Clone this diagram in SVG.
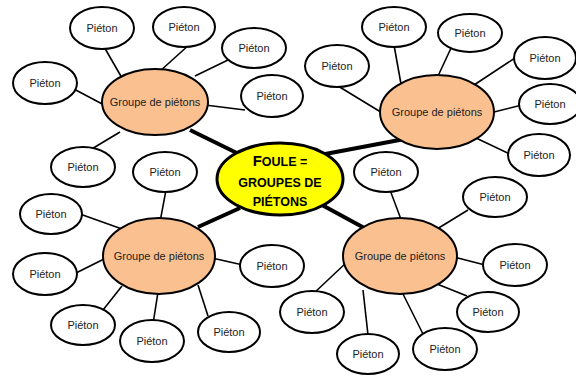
<svg xmlns="http://www.w3.org/2000/svg" width="576" height="376" viewBox="0 0 576 376">
<style>
.p ellipse{fill:#fff;stroke:#000;stroke-width:2}
.g ellipse{fill:#FAC090;stroke:#000;stroke-width:2}
text{font-family:"Liberation Sans",Arial,sans-serif;font-size:11px;fill:#222;text-anchor:middle}
.c text{font-weight:bold;fill:#000;font-size:12.5px}
.l line{stroke:#000;stroke-width:1.6}
.l line.t{stroke-width:4}
</style>
<rect width="576" height="376" fill="#fff"/>
<g id="connectors" class="l">
<line class="t" x1="190" y1="130" x2="245" y2="157"/>
<line class="t" x1="410" y1="138" x2="320" y2="155"/>
<line class="t" x1="198" y1="227" x2="240" y2="208"/>
<line class="t" x1="322" y1="205" x2="368" y2="230"/>
<line x1="103" y1="45" x2="122" y2="78"/>
<line x1="190" y1="44" x2="159" y2="72"/>
<line x1="228" y1="60" x2="195" y2="76"/>
<line x1="245" y1="110" x2="205" y2="105"/>
<line x1="72" y1="88" x2="106" y2="106"/>
<line x1="90" y1="150" x2="120" y2="132"/>
<line x1="394" y1="45" x2="401" y2="84"/>
<line x1="452" y1="46" x2="438" y2="76"/>
<line x1="338" y1="86" x2="384" y2="114"/>
<line x1="518" y1="56" x2="474" y2="85"/>
<line x1="522" y1="105" x2="490" y2="113"/>
<line x1="512" y1="155" x2="476" y2="138"/>
<line x1="166" y1="190" x2="160" y2="222"/>
<line x1="80" y1="214" x2="122" y2="229"/>
<line x1="74" y1="274" x2="106" y2="258"/>
<line x1="103" y1="310" x2="122" y2="286"/>
<line x1="153" y1="324" x2="158" y2="292"/>
<line x1="208" y1="316" x2="198" y2="285"/>
<line x1="243" y1="265" x2="212" y2="258"/>
<line x1="390" y1="190" x2="402" y2="222"/>
<line x1="468" y1="210" x2="437" y2="229"/>
<line x1="485" y1="265" x2="454" y2="257"/>
<line x1="467" y1="296" x2="437" y2="284"/>
<line x1="423" y1="334" x2="402" y2="292"/>
<line x1="368" y1="335" x2="363" y2="290"/>
<line x1="313" y1="294" x2="347" y2="262"/>
</g>
<g id="foule" class="c">
<ellipse cx="280" cy="179" rx="63" ry="36" fill="#FFFF00" stroke="#000" stroke-width="3"/>
<text x="280" y="166"><tspan font-size="15">F</tspan>OULE =</text>
<text x="280" y="187">GROUPES DE</text>
<text x="280" y="206">PIÉTONS</text>
</g>
<g id="g1" class="g"><ellipse cx="155" cy="102" rx="53" ry="33"/><text x="155" y="106">Groupe de piétons</text></g>
<g id="g2" class="g"><ellipse cx="437" cy="112" rx="57" ry="37"/><text x="437" y="116">Groupe de piétons</text></g>
<g id="g3" class="g"><ellipse cx="159" cy="256" rx="56" ry="38"/><text x="159" y="260">Groupe de piétons</text></g>
<g id="g4" class="g"><ellipse cx="400" cy="256" rx="57" ry="38"/><text x="400" y="260">Groupe de piétons</text></g>
<g id="p1" class="p"><ellipse cx="102" cy="28" rx="32" ry="21"/><text x="102" y="32">Piéton</text></g>
<g id="p2" class="p"><ellipse cx="184" cy="27" rx="31" ry="20"/><text x="184" y="31">Piéton</text></g>
<g id="p3" class="p"><ellipse cx="254" cy="48" rx="32" ry="20"/><text x="254" y="52">Piéton</text></g>
<g id="p4" class="p"><ellipse cx="272" cy="96" rx="31" ry="21"/><text x="272" y="100">Piéton</text></g>
<g id="p5" class="p"><ellipse cx="45" cy="83" rx="32" ry="21"/><text x="45" y="87">Piéton</text></g>
<g id="p6" class="p"><ellipse cx="83" cy="167" rx="32" ry="20"/><text x="83" y="171">Piéton</text></g>
<g id="p7" class="p"><ellipse cx="394" cy="27" rx="32" ry="20"/><text x="394" y="31">Piéton</text></g>
<g id="p8" class="p"><ellipse cx="470" cy="33" rx="32" ry="19"/><text x="470" y="37">Piéton</text></g>
<g id="p9" class="p"><ellipse cx="337" cy="66" rx="32" ry="21"/><text x="337" y="70">Piéton</text></g>
<g id="p10" class="p"><ellipse cx="545" cy="58" rx="31" ry="21"/><text x="545" y="62">Piéton</text></g>
<g id="p11" class="p"><ellipse cx="550" cy="104" rx="31" ry="20"/><text x="550" y="108">Piéton</text></g>
<g id="p12" class="p"><ellipse cx="539" cy="155" rx="31" ry="21"/><text x="539" y="159">Piéton</text></g>
<g id="p13" class="p"><ellipse cx="165" cy="172" rx="32" ry="20"/><text x="165" y="176">Piéton</text></g>
<g id="p14" class="p"><ellipse cx="51" cy="214" rx="31" ry="20"/><text x="51" y="218">Piéton</text></g>
<g id="p15" class="p"><ellipse cx="45" cy="274" rx="32" ry="21"/><text x="45" y="278">Piéton</text></g>
<g id="p16" class="p"><ellipse cx="83" cy="325" rx="32" ry="20"/><text x="83" y="329">Piéton</text></g>
<g id="p17" class="p"><ellipse cx="152" cy="341" rx="32" ry="21"/><text x="152" y="345">Piéton</text></g>
<g id="p18" class="p"><ellipse cx="229" cy="332" rx="31" ry="20"/><text x="229" y="336">Piéton</text></g>
<g id="p19" class="p"><ellipse cx="272" cy="266" rx="32" ry="21"/><text x="272" y="270">Piéton</text></g>
<g id="p20" class="p"><ellipse cx="386" cy="172" rx="32" ry="20"/><text x="386" y="176">Piéton</text></g>
<g id="p21" class="p"><ellipse cx="495" cy="197" rx="32" ry="20"/><text x="495" y="201">Piéton</text></g>
<g id="p22" class="p"><ellipse cx="515" cy="265" rx="32" ry="21"/><text x="515" y="269">Piéton</text></g>
<g id="p23" class="p"><ellipse cx="488" cy="312" rx="31" ry="20"/><text x="488" y="316">Piéton</text></g>
<g id="p24" class="p"><ellipse cx="445" cy="349" rx="32" ry="21"/><text x="445" y="353">Piéton</text></g>
<g id="p25" class="p"><ellipse cx="368" cy="354" rx="31" ry="20"/><text x="368" y="358">Piéton</text></g>
<g id="p26" class="p"><ellipse cx="312" cy="312" rx="32" ry="21"/><text x="312" y="316">Piéton</text></g>
</svg>
